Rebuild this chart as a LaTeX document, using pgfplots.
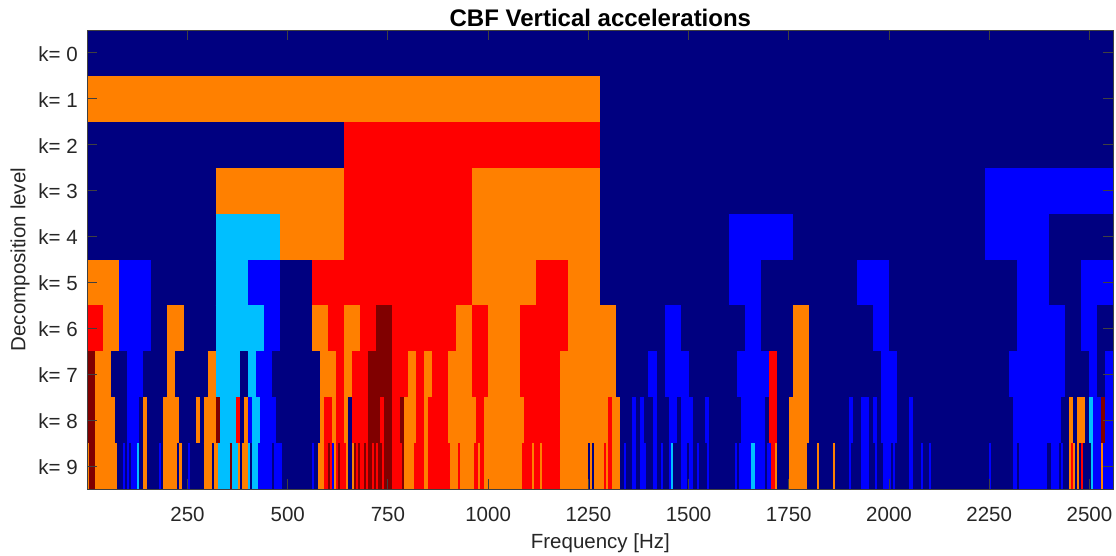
\documentclass[border=0pt]{standalone}
\usepackage{pgfplots}
\usepackage{pgfplotstable}
\usepackage{fontspec}
\setmainfont{Liberation Sans}
\pgfplotsset{compat=1.18}
\definecolor{cN}{HTML}{000080}
\definecolor{cB}{HTML}{0000FF}
\definecolor{cC}{HTML}{00BFFF}
\definecolor{cO}{HTML}{FF8000}
\definecolor{cR}{HTML}{FF0000}
\definecolor{cD}{HTML}{800000}
\definecolor{axg}{HTML}{404040}
\pgfplotstableset{row sep=\\}
\pgfplotstableread[row sep=\\]{k a b\\
0 0 2560\\ 1 0 2560\\ 2 0 2560\\ 3 0 2560\\ 4 0 2560\\ 5 0 2560\\ 6 0 2560\\ 7 0 2560\\ 8 0 2560\\ 9 0 2560\\
}\tN
\pgfplotstableread[row sep=\\]{k a b\\
3 2240 2560\\
4 1600 1760\\ 4 2240 2400\\
5 80 160\\ 5 400 480\\ 5 1600 1680\\ 5 1920 2000\\ 5 2320 2400\\ 5 2480 2560\\
6 80 160\\ 6 440 480\\ 6 1440 1480\\ 6 1640 1680\\ 6 1960 2000\\ 6 2320 2440\\ 6 2480 2520\\
7 100 140\\ 7 420 460\\ 7 1400 1420\\ 7 1440 1500\\ 7 1620 1700\\ 7 1980 2020\\ 7 2300 2440\\ 7 2500 2520\\ 7 2540 2560\\
8 100 130\\ 8 400 410\\ 8 430 470\\ 8 1360 1370\\ 8 1380 1390\\ 8 1410 1420\\ 8 1450 1470\\ 8 1480 1510\\ 8 1540 1550\\ 8 1630 1690\\ 8 1900 1910\\ 8 1930 1950\\ 8 1960 1970\\ 8 1980 2020\\ 8 2050 2060\\ 8 2310 2430\\ 8 2510 2530\\ 8 2540 2560\\
9 90 95\\ 9 100 105\\ 9 110 125\\ 9 180 185\\ 9 250 255\\ 9 425 460\\ 9 465 485\\ 9 560 565\\ 9 610 615\\ 9 1340 1345\\ 9 1360 1370\\ 9 1380 1395\\ 9 1410 1420\\ 9 1430 1435\\ 9 1450 1455\\ 9 1480 1495\\ 9 1500 1510\\ 9 1520 1525\\ 9 1545 1550\\ 9 1615 1620\\ 9 1625 1655\\ 9 1665 1690\\ 9 1695 1705\\ 9 1900 1905\\ 9 1930 1950\\ 9 1965 1970\\ 9 1985 2005\\ 9 2010 2015\\ 9 2050 2060\\ 9 2080 2085\\ 9 2100 2105\\ 9 2250 2255\\ 9 2310 2320\\ 9 2325 2395\\ 9 2405 2425\\ 9 2430 2435\\ 9 2510 2530\\ 9 2535 2560\\
}\tB
\pgfplotstableread[row sep=\\]{k a b\\
4 320 480\\ 5 320 400\\ 6 320 440\\ 7 320 380\\ 7 400 420\\
8 330 370\\ 8 410 430\\ 8 2500 2510\\
9 125 130\\ 9 325 355\\ 9 360 375\\ 9 400 405\\ 9 410 425\\ 9 1455 1460\\ 9 1655 1665\\ 9 2505 2510\\
}\tC
\pgfplotstableread[row sep=\\]{k a b\\
1 0 1280\\
3 320 640\\ 3 960 1280\\
4 480 640\\ 4 960 1280\\
5 0 80\\ 5 960 1120\\ 5 1200 1280\\
6 40 80\\ 6 200 240\\ 6 560 600\\ 6 640 680\\ 6 920 960\\ 6 1000 1080\\ 6 1200 1320\\ 6 1760 1800\\
7 20 60\\ 7 200 220\\ 7 300 320\\ 7 580 620\\ 7 640 660\\ 7 800 820\\ 7 840 860\\ 7 900 960\\ 7 1000 1080\\ 7 1180 1320\\ 7 1760 1800\\
8 20 70\\ 8 140 150\\ 8 190 230\\ 8 270 280\\ 8 290 320\\ 8 390 400\\ 8 580 590\\ 8 610 620\\ 8 640 650\\ 8 790 820\\ 8 840 850\\ 8 900 970\\ 8 990 1090\\ 8 1180 1300\\ 8 1310 1330\\ 8 1750 1800\\ 8 2450 2460\\ 8 2470 2490\\
9 0 5\\ 9 20 75\\ 9 140 150\\ 9 190 225\\ 9 230 235\\ 9 290 310\\ 9 315 325\\ 9 375 380\\ 9 385 400\\ 9 575 590\\ 9 615 620\\ 9 645 650\\ 9 660 665\\ 9 790 815\\ 9 840 850\\ 9 905 925\\ 9 930 965\\ 9 975 980\\ 9 990 1085\\ 9 1110 1115\\ 9 1130 1135\\ 9 1180 1250\\ 9 1255 1260\\ 9 1265 1290\\ 9 1295 1300\\ 9 1310 1330\\ 9 1715 1720\\ 9 1750 1795\\ 9 1820 1825\\ 9 1860 1865\\ 9 2450 2455\\ 9 2460 2465\\ 9 2470 2475\\ 9 2530 2535\\
}\tO
\pgfplotstableread[row sep=\\]{k a b\\
2 640 1280\\ 3 640 960\\ 4 640 960\\
5 560 960\\ 5 1120 1200\\
6 0 40\\ 6 600 640\\ 6 680 720\\ 6 760 920\\ 6 960 1000\\ 6 1080 1200\\
7 620 640\\ 7 660 700\\ 7 760 800\\ 7 820 840\\ 7 860 900\\ 7 960 1000\\ 7 1080 1180\\ 7 1700 1720\\
8 370 380\\ 8 590 610\\ 8 620 640\\ 8 660 700\\ 8 730 740\\ 8 760 780\\ 8 820 840\\ 8 850 900\\ 8 970 990\\ 8 1090 1180\\ 8 1300 1310\\ 8 1700 1720\\
9 590 600\\ 9 605 610\\ 9 620 625\\ 9 630 645\\ 9 670 675\\ 9 680 690\\ 9 695 700\\ 9 710 715\\ 9 720 725\\ 9 735 740\\ 9 760 785\\ 9 815 840\\ 9 850 905\\ 9 925 930\\ 9 965 975\\ 9 980 990\\ 9 1085 1110\\ 9 1115 1130\\ 9 1135 1180\\ 9 1290 1295\\ 9 1300 1310\\ 9 1705 1715\\ 9 2455 2460\\ 9 2480 2485\\
}\tR
\pgfplotstableread[row sep=\\]{k a b\\
6 720 760\\ 7 0 20\\ 7 700 760\\
8 0 20\\ 8 320 330\\ 8 700 730\\ 8 740 760\\ 8 780 790\\ 8 2530 2540\\
9 5 20\\ 9 355 360\\ 9 600 605\\ 9 625 630\\ 9 665 670\\ 9 675 680\\ 9 690 695\\ 9 700 710\\ 9 715 720\\ 9 725 735\\ 9 740 760\\ 9 785 790\\
}\tD
\newcommand\runs[2]{\addplot[no markers,draw=none,forget plot,
  error bars/.cd,x dir=plus,x explicit,error mark=none,
  error bar style={line width=45.9pt,color=#2,line cap=butt,solid}]
  table[x=a,y=k,x error plus expr=\thisrow{b}-\thisrow{a}]{#1};}
\begin{document}
\begin{tikzpicture}[x=1pt,y=1pt]
\path[use as bounding box] (0,0) rectangle (1116,555);
\begin{axis}[
  at={(87.3pt,66pt)},anchor=south west,
  scale only axis,width=1026.2pt,height=459pt,
  xmin=0,xmax=2560,ymin=-0.5,ymax=9.5,y dir=reverse,
  axis on top,clip=true,
  axis line style={color=axg,line width=1pt},
  tick style={color=axg,line width=1pt},
  tick align=inside,major tick length=10pt,
  xtick={250,500,...,2500},
  ytick={0,...,9},
  yticklabels={k= 0,k= 1,k= 2,k= 3,k= 4,k= 5,k= 6,k= 7,k= 8,k= 9},
  /pgf/number format/assume math mode=true,
  /pgf/number format/1000 sep={},
  xticklabel style={font=\fontsize{20.5}{24}\selectfont,color=black!85,yshift=-14.5pt},
  yticklabel style={font=\fontsize{20.5}{24}\selectfont,color=black!85,xshift=-6pt,yshift=-1pt},
  xlabel={Frequency [Hz]},
  ylabel={Decomposition level},
  label style={font=\fontsize{20.5}{24}\selectfont,color=black!85},
  xlabel style={at={(axis description cs:0.5,0)},anchor=base,yshift=-59pt},
  ylabel style={at={(axis description cs:0,0.5)},anchor=base,yshift=62pt},
  title={\textbf{CBF Vertical accelerations}},
  title style={font=\fontsize{24}{28}\selectfont,at={(axis description cs:0.5,1)},anchor=base,yshift=-2pt},
]
\runs{\tN}{cN}
\runs{\tB}{cB}
\runs{\tC}{cC}
\runs{\tO}{cO}
\runs{\tR}{cR}
\runs{\tD}{cD}
\end{axis}
\end{tikzpicture}
\end{document}
